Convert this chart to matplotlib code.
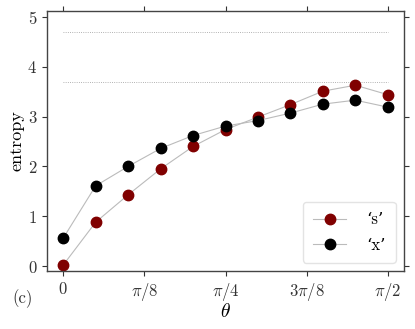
import numpy as np
import matplotlib
matplotlib.use("Agg")
import matplotlib.pyplot as plt

plt.rcParams["font.family"] = ["cmr10", "DejaVu Serif"]
plt.rcParams["mathtext.fontset"] = "cm"
plt.rcParams["axes.unicode_minus"] = False

# --- data ---
theta = np.arange(11) * np.pi / 20
entropy_s = [0.02, 0.88, 1.43, 1.95, 2.40, 2.74, 2.99, 3.24, 3.51, 3.63, 3.44]
entropy_x = [0.56, 1.61, 2.00, 2.36, 2.62, 2.81, 2.92, 3.07, 3.25, 3.33, 3.19]
ref_levels = [np.log2(26), np.log2(13)]

xtick_vals = [0, np.pi / 8, np.pi / 4, 3 * np.pi / 8, np.pi / 2]
xtick_labels = [r"$0$", r"$\pi/8$", r"$\pi/4$", r"$3\pi/8$", r"$\pi/2$"]
ytick_vals = [0, 1, 2, 3, 4, 5]
ytick_labels = [r"$%d$" % v for v in ytick_vals]

fig = plt.figure(figsize=(4.15, 3.29), dpi=100)
ax = fig.add_axes([47 / 415, 1 - 271 / 329, 357 / 415, 260 / 329])

for lvl in ref_levels:
    ax.plot([theta[0], theta[-1]], [lvl, lvl], ls=":", lw=0.6, color="#999999")

ax.plot(theta, entropy_s, "-o", color="#bbbbbb", lw=0.8, ms=7.5,
        mfc="#800000", mec="#800000", label="‘s’")
ax.plot(theta, entropy_x, "-o", color="#bbbbbb", lw=0.8, ms=7.5,
        mfc="black", mec="black", label="‘x’")

ax.set_xlim(-0.05 * np.pi / 2, 1.05 * np.pi / 2)
ax.set_ylim(-0.1, 5.12)
ax.set_xticks(xtick_vals)
ax.set_xticklabels(xtick_labels)
ax.set_yticks(ytick_vals)
ax.set_yticklabels(ytick_labels)
ax.tick_params(top=True, right=True, direction="out", length=3.5, width=0.8,
               labelsize=12, colors="#333333")
for sp in ax.spines.values():
    sp.set_color("#444444")
    sp.set_linewidth(1.0)

ax.set_xlabel(r"$\theta$", fontsize=14, labelpad=0)
ax.set_ylabel("entropy", fontsize=13, labelpad=2)
fig.text(12 / 415, 1 - 303 / 329, "(c)", fontsize=12, color="#333333")

leg = ax.legend(loc="lower right", fontsize=12, handlelength=2.0, borderpad=0.6,
                labelspacing=0.6, handletextpad=1.2, fancybox=True)
leg.get_frame().set_edgecolor("#dddddd")

fig.savefig("out.png", dpi=100)
